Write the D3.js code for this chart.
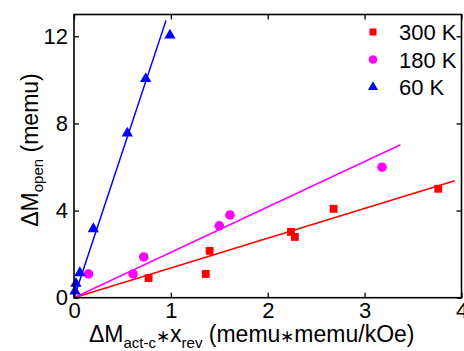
<!DOCTYPE html>
<html>
<head>
<meta charset="utf-8">
<script src="https://cdn.jsdelivr.net/npm/d3@7.9.0/dist/d3.min.js"></script>
<style>
  body { margin: 0; background: #fff; }
  svg { display: block; font-family: "Liberation Sans", Arial, sans-serif; }
</style>
</head>
<body>
<svg width="464" height="351"></svg>
<script>
// data
const seriesNames = ['300 K', '180 K', '60 K'];
const seriesColors = ['#ff0000', '#ff00ff', '#0000ff'];

const x300 = [0.77, 1.36, 1.40, 2.24, 2.28, 2.68, 3.76];
const y300 = [0.90, 1.09, 2.15, 3.02, 2.79, 4.08, 5.00];

const x180 = [0.15, 0.61, 0.72, 1.50, 1.61, 3.18];
const y180 = [1.09, 1.09, 1.87, 3.30, 3.80, 5.99];

const x60 = [0.01, 0.02, 0.06, 0.20, 0.55, 0.74, 0.99];
const y60 = [0.30, 0.65, 1.14, 3.16, 7.55, 10.05, 12.05];

// linear fits through the origin
const fitSlopes = [1.365, 2.083, 13.4];
const fitEnds = [3.93, 3.37, 0.95];

const xTicks = [0, 1, 2, 3, 4];
const yTicks = [0, 4, 8, 12];

const svg = d3.select('svg');
const margin = { left: 74, top: 14.5, right: 461.5, bottom: 297.7 };

let x = d3.scaleLinear().domain([0, 4]).range([margin.left, margin.right]);
let y = d3.scaleLinear().domain([0, 13]).range([margin.bottom, margin.top]);

const symbols = [d3.symbolSquare, d3.symbolCircle, d3.symbolTriangle];
const sizes = [62, 72, 56];
const xs = [x300, x180, x60];
const ys = [y300, y180, y60];

// fit lines
fitSlopes.forEach((m, i) => {
  svg.append('line')
    .attr('x1', x(0)).attr('y1', y(0))
    .attr('x2', x(fitEnds[i])).attr('y2', y(m * fitEnds[i]))
    .attr('stroke', seriesColors[i])
    .attr('stroke-width', 1.5);
});

// markers
xs.forEach((xv, i) => {
  let sym = d3.symbol().type(symbols[i]).size(sizes[i]);
  xv.forEach((v, j) => {
    svg.append('path')
      .attr('d', sym())
      .attr('transform', `translate(${x(v)},${y(ys[i][j])})`)
      .attr('fill', seriesColors[i]);
  });
});

// axes, ticks pointing in
const fontSize = 22;
let gx = svg.append('g').attr('transform', `translate(0,${margin.bottom})`)
  .call(d3.axisBottom(x).tickValues(xTicks).tickSize(-5).tickPadding(5).tickFormat(d3.format('d')));
let gy = svg.append('g').attr('transform', `translate(${margin.left},0)`)
  .call(d3.axisLeft(y).tickValues(yTicks).tickSize(-5).tickPadding(6).tickFormat(d3.format('d')));
let gt = svg.append('g').attr('transform', `translate(0,${margin.top})`)
  .call(d3.axisTop(x).tickValues(xTicks).tickSize(-5).tickFormat(''));
let gr = svg.append('g').attr('transform', `translate(${margin.right},0)`)
  .call(d3.axisRight(y).tickValues(yTicks).tickSize(-5).tickFormat(''));

[gx, gy, gt, gr].forEach((g) => {
  g.select('.domain').remove();
  g.selectAll('line').attr('stroke', '#000').attr('stroke-width', 1.3);
  g.selectAll('text').attr('font-size', fontSize).attr('fill', '#000')
    .attr('font-family', '"Liberation Sans", Arial, sans-serif');
});

// frame
svg.append('rect')
  .attr('x', margin.left).attr('y', margin.top)
  .attr('width', margin.right - margin.left)
  .attr('height', margin.bottom - margin.top)
  .attr('fill', 'none').attr('stroke', '#000').attr('stroke-width', 1.6);

// y label
let yl = svg.append('text')
  .attr('transform', 'translate(37.5,150) rotate(-90)')
  .attr('text-anchor', 'middle')
  .attr('font-size', 23);
yl.append('tspan').text('ΔM');
yl.append('tspan').attr('font-size', 15).attr('dy', 5).text('open');
yl.append('tspan').attr('dy', -5).text(' (memu)');

// x label, small centred asterisks
let xl = svg.append('text')
  .attr('x', 89).attr('y', 342)
  .attr('font-size', 23);
xl.append('tspan').text('ΔM');
xl.append('tspan').attr('font-size', 15).attr('dy', 6).text('act-c');
xl.append('tspan').attr('dy', -6).attr('font-size', 17).text('∗');
xl.append('tspan').text('x');
xl.append('tspan').attr('font-size', 15).attr('dy', 6).text('rev');
xl.append('tspan').attr('dy', -6).text(' (memu');
xl.append('tspan').attr('font-size', 17).text('∗');
xl.append('tspan').text('memu/kOe)');

// legend
const legendY = [32, 59.5, 87];
seriesNames.forEach((name, i) => {
  svg.append('path')
    .attr('d', d3.symbol().type(symbols[i]).size(sizes[i] * 0.8)())
    .attr('transform', `translate(373,${legendY[i]})`)
    .attr('fill', seriesColors[i]);
  svg.append('text')
    .attr('x', 399).attr('y', legendY[i] + 8)
    .attr('font-size', 22)
    .text(name);
});
</script>
</body>
</html>
